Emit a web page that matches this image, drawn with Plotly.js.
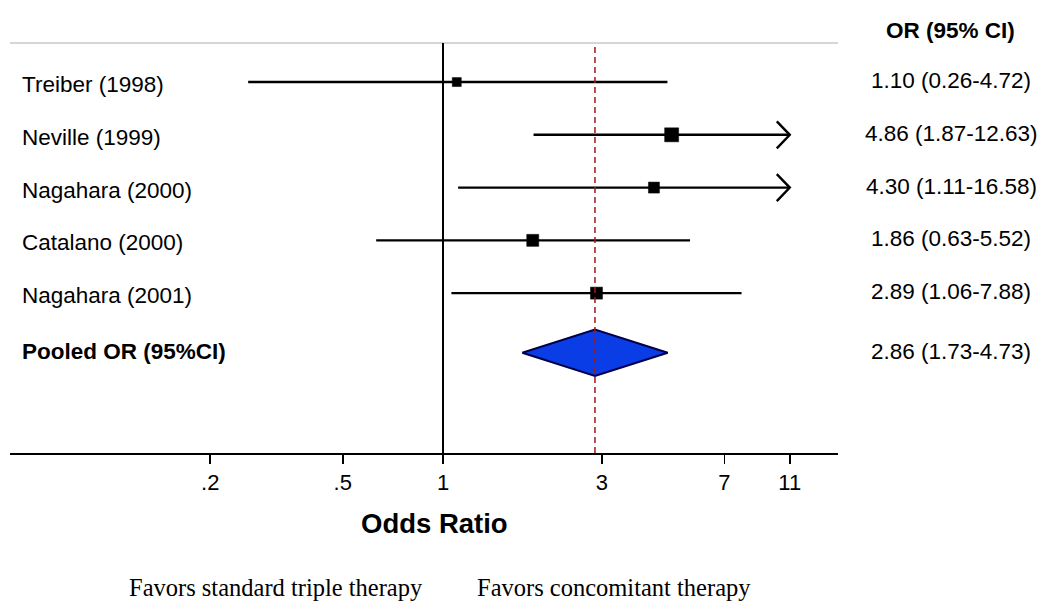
<!DOCTYPE html>
<html>
<head>
<meta charset="utf-8">
<script src="https://cdn.plot.ly/plotly-3.0.1.min.js"></script>
<style>html,body{margin:0;padding:0;background:#fff;}#chart{width:1050px;height:613px;}</style>
</head>
<body>
<div id="chart"></div>
<script>
// ---- data ----
const studies = ['Treiber (1998)', 'Neville (1999)', 'Nagahara (2000)', 'Catalano (2000)', 'Nagahara (2001)'];
const oddsRatio = [1.10, 4.86, 4.30, 1.86, 2.89];
const ciLower = [0.26, 1.87, 1.11, 0.63, 1.06];
const ciUpper = [4.72, 12.63, 16.58, 5.52, 7.88];
const pooledLabel = 'Pooled OR (95%CI)';
const pooledOR = 2.86;
const pooledLower = 1.73;
const pooledUpper = 4.73;
const tickValues = [0.2, 0.5, 1, 3, 7, 11];
const tickLabels = ['.2', '.5', '1', '3', '7', '11'];

// ---- style ----
const boxSize = [9, 14, 11, 12, 12];
const xMax = 11;              // CI clipping value (arrow)
const rowY = studies.map((s, i) => i + 1);
const pooledY = studies.length + 1.13;
const diamondHalf = 0.44;
const arrowBack = 1.094, arrowHalf = 0.256;
const fontSans = 'Arial, "Liberation Sans", Helvetica, sans-serif';
const fontSerif = '"Times New Roman", "Liberation Serif", Times, serif';
const txtSize = 22.5;

const fmt = v => v.toFixed(2);

// CI lines
const ciX = [], ciY = [];
const arX = [], arY = [];
studies.forEach((s, i) => {
  const hi = Math.min(ciUpper[i], xMax);
  ciX.push(ciLower[i], hi, null);
  ciY.push(rowY[i], rowY[i], null);
  if (ciUpper[i] > xMax) {
    arX.push(xMax / arrowBack, xMax, xMax / arrowBack, null);
    arY.push(rowY[i] - arrowHalf, rowY[i], rowY[i] + arrowHalf, null);
  }
});

const traces = [
  {x: ciX, y: ciY, mode: 'lines', line: {color: '#000', width: 2.4}, hoverinfo: 'skip', showlegend: false},
  {x: arX, y: arY, mode: 'lines', line: {color: '#000', width: 2.4}, hoverinfo: 'skip', showlegend: false},
  {x: oddsRatio, y: rowY, mode: 'markers', marker: {symbol: 'square', size: boxSize, color: '#000', opacity: 1, line: {width: 0.5, color: '#000'}}, showlegend: false},
  {x: [pooledLower, pooledOR, pooledUpper, pooledOR, pooledLower],
   y: [pooledY, pooledY - diamondHalf, pooledY, pooledY + diamondHalf, pooledY],
   mode: 'lines', fill: 'toself', fillcolor: '#0a3de6', line: {color: '#00004a', width: 2}, showlegend: false}
];

const L = 10, T = 43, W = 828, H = 409.7;
const annotations = [];
studies.forEach((s, i) => {
  annotations.push({text: s, xref: 'paper', x: (20 - L) / W, xanchor: 'left', yref: 'y', y: rowY[i] + 0.05, yanchor: 'middle',
    showarrow: false, font: {family: fontSans, size: txtSize, color: '#000'}});
  annotations.push({text: fmt(oddsRatio[i]) + ' (' + fmt(ciLower[i]) + '-' + fmt(ciUpper[i]) + ')',
    xref: 'paper', x: (951 - L) / W, xanchor: 'center', yref: 'y', y: rowY[i] - 0.03, yanchor: 'middle',
    showarrow: false, font: {family: fontSans, size: txtSize, color: '#000'}});
});
annotations.push({text: '<b>' + pooledLabel + '</b>', xref: 'paper', x: (20 - L) / W, xanchor: 'left', yref: 'y', y: pooledY - 0.03,
  yanchor: 'middle', showarrow: false, font: {family: fontSans, size: txtSize, color: '#000'}});
annotations.push({text: fmt(pooledOR) + ' (' + fmt(pooledLower) + '-' + fmt(pooledUpper) + ')',
  xref: 'paper', x: (951 - L) / W, xanchor: 'center', yref: 'y', y: pooledY - 0.03, yanchor: 'middle',
  showarrow: false, font: {family: fontSans, size: txtSize, color: '#000'}});
annotations.push({text: '<b>OR (95% CI)</b>', xref: 'paper', x: (950 - L) / W, xanchor: 'center', yref: 'paper', y: 1 + (T - 31) / H,
  yanchor: 'middle', showarrow: false, font: {family: fontSans, size: txtSize, color: '#000'}});
annotations.push({text: '<b>Odds Ratio</b>', xref: 'paper', x: (435 - L) / W, xanchor: 'center', yref: 'paper', y: -(523 - (T + H)) / H,
  yanchor: 'middle', showarrow: false, font: {family: fontSans, size: 27.5, color: '#000'}});
annotations.push({text: 'Favors standard triple therapy', xref: 'paper', x: (127 - L) / W, xanchor: 'left', yref: 'paper', y: -(587 - (T + H)) / H,
  yanchor: 'middle', showarrow: false, font: {family: fontSerif, size: 24.5, color: '#000'}});
annotations.push({text: 'Favors concomitant therapy', xref: 'paper', x: (475 - L) / W, xanchor: 'left', yref: 'paper', y: -(587 - (T + H)) / H,
  yanchor: 'middle', showarrow: false, font: {family: fontSerif, size: 24.5, color: '#000'}});

const layout = {
  width: 1050, height: 613,
  margin: {l: L, r: 1050 - L - W, t: T, b: 613 - T - H, pad: 0},
  paper_bgcolor: '#fff', plot_bgcolor: '#fff',
  showlegend: false,
  xaxis: {type: 'log', range: [-1.3003, 1.1862], tickvals: tickValues, ticktext: tickLabels,
    showgrid: false, zeroline: false, showline: true, linecolor: '#000', linewidth: 2,
    ticks: 'outside', ticklen: 9, tickwidth: 1.5, tickcolor: '#000',
    tickfont: {family: fontSans, size: 22, color: '#000'}, fixedrange: true},
  yaxis: {range: [8.03, 0.26], showgrid: false, zeroline: false, showline: false, showticklabels: false, ticks: '', fixedrange: true},
  shapes: [
    {type: 'line', xref: 'paper', yref: 'paper', x0: 0, x1: 1, y0: 1, y1: 1, line: {color: '#c8c8c8', width: 1.5}},
    {type: 'line', xref: 'x', yref: 'paper', x0: 1, x1: 1, y0: 0, y1: 1, line: {color: '#000', width: 2}},
    {type: 'line', xref: 'x', yref: 'paper', x0: pooledOR, x1: pooledOR, y0: 0, y1: 1, line: {color: '#a01818', width: 1.5, dash: '6px,4px'}}
  ],
  annotations: annotations
};

Plotly.newPlot('chart', traces, layout, {displayModeBar: false, staticPlot: true});
</script>
</body>
</html>
